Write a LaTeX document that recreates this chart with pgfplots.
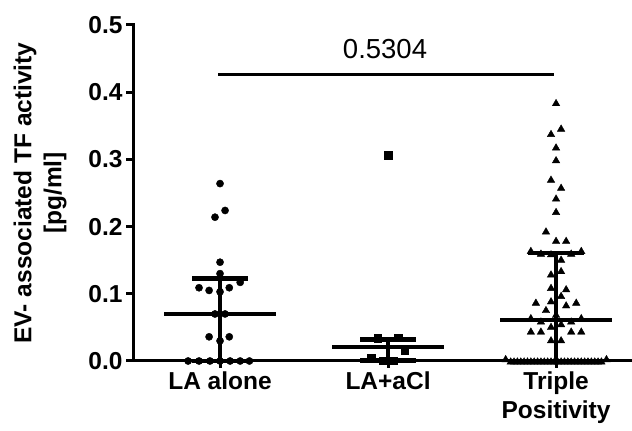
\documentclass[border=0pt]{standalone}
\usepackage{fontspec}
\setmainfont{Liberation Sans}
\usepackage{pgfplots}
\pgfplotsset{compat=1.18}
\begin{document}
\begin{tikzpicture}
\path[use as bounding box] (0pt,0pt) rectangle (632pt,431pt);
\begin{axis}[
  at={(133pt,70pt)}, anchor=south west,
  scale only axis, width=499pt, height=336pt,
  xmin=0.482, xmax=3.452, ymin=0, ymax=0.5,
  axis x line=bottom, axis y line=left,
  axis line style={-, line width=3pt, line cap=rect},
  axis on top,
  tick align=outside, major tick length=7pt,
  tick style={line width=3pt, black},
  xtick={1,2,3},
  xticklabels={LA alone, LA+aCl, {Triple\\Positivity}},
  ytick={0,0.1,0.2,0.3,0.4,0.5},
  /pgf/number format/fixed, /pgf/number format/fixed zerofill,
  /pgf/number format/precision=1, /pgf/number format/assume math mode=true,
  yticklabel style={font=\bfseries\fontsize{24.5}{28}\selectfont},
  xticklabel style={font=\bfseries\fontsize{24.5}{29}\selectfont, align=center},
  ylabel={EV- associated TF activity\\\mbox{[pg/ml]}},
  ylabel style={font=\bfseries\fontsize{24.5}{30}\selectfont, align=center,
    at={(rel axis cs:-0.1864,0.5)}, anchor=center},
  clip=false,
]
% significance line
\addplot[black, line width=3pt] coordinates {(0.988,0.427) (2.988,0.427)};
\node[font=\fontsize{27.5}{30}\selectfont] at (axis cs:1.982,0.464) {0.5304};

% LA alone
\addplot[only marks, mark=*, mark size=3.6pt, black] coordinates {
(1.00,0.264) (1.03,0.224) (0.97,0.214) (1.00,0.147) (1.00,0.130)
(1.12,0.117) (0.875,0.109) (0.935,0.105) (1.00,0.103) (1.055,0.109)
(0.97,0.070) (1.03,0.070) (0.935,0.036) (1.055,0.036) (1.00,0.030)
(0.81,0) (0.875,0) (0.94,0) (1.00,0) (1.06,0) (1.12,0) (1.175,0)
};
\addplot[black, line width=4.5pt] coordinates {(0.667,0.070) (1.333,0.070)};
\addplot[black, line width=4.5pt] coordinates {(0.834,0.123) (1.166,0.123)};
\addplot[black, line width=4.5pt] coordinates {(0.834,0) (1.166,0)};
\addplot[black, line width=4pt] coordinates {(1,0) (1,0.123)};

% LA+aCl
\addplot[only marks, mark=square*, mark size=3.7pt, black] coordinates {
(2.00,0.306) (1.94,0.034) (2.06,0.035) (2.10,0.016) (1.90,0.004) (1.97,0) (2.03,0)
};
\addplot[black, line width=4.5pt] coordinates {(1.667,0.021) (2.333,0.021)};
\addplot[black, line width=4.5pt] coordinates {(1.834,0.032) (2.166,0.032)};
\addplot[black, line width=4.5pt] coordinates {(1.834,0.001) (2.166,0.001)};
\addplot[black, line width=4pt] coordinates {(2,0) (2,0.032)};

% Triple Positivity
\addplot[only marks, mark=triangle*, mark size=4.3pt, black] coordinates {
(3.00,0.383) (3.03,0.345) (2.97,0.337) (3.00,0.317) (3.00,0.298)
(2.97,0.269) (3.03,0.257) (3.00,0.241) (3.00,0.221) (2.94,0.192)
(3.00,0.178) (3.06,0.178)
(2.85,0.163) (2.91,0.159) (2.97,0.158) (3.03,0.150) (3.09,0.159) (3.15,0.163)
(2.97,0.128) (3.03,0.133) (2.97,0.108) (3.06,0.106) (3.03,0.096)
(2.97,0.088) (2.88,0.086) (3.12,0.086) (3.06,0.082) (2.94,0.075) (3.00,0.068)
(2.85,0.063) (2.91,0.058) (3.09,0.058) (3.15,0.063)
(2.97,0.050) (3.03,0.054)
(2.85,0.043) (2.91,0.043) (3.09,0.043) (3.15,0.043)
(2.97,0.030) (3.03,0.030)
(2.70,0.002) (3.30,0.002)
};
\addplot[only marks, mark=triangle*, mark size=4.3pt, black] coordinates {
(2.73,-0.0015) (2.75,-0.0015) (2.77,-0.0015) (2.79,-0.0015) (2.81,-0.0015)
(2.83,-0.0015) (2.85,-0.0015) (2.87,-0.0015) (2.89,-0.0015) (2.91,-0.0015)
(2.93,-0.0015) (2.95,-0.0015) (2.97,-0.0015) (2.99,-0.0015)
(3.01,-0.0015) (3.03,-0.0015) (3.05,-0.0015) (3.07,-0.0015) (3.09,-0.0015)
(3.11,-0.0015) (3.13,-0.0015) (3.15,-0.0015) (3.17,-0.0015) (3.19,-0.0015)
(3.21,-0.0015) (3.23,-0.0015) (3.25,-0.0015) (3.27,-0.0015)
};
\addplot[black, line width=4.5pt] coordinates {(2.667,0.061) (3.333,0.061)};
\addplot[black, line width=4.5pt] coordinates {(2.834,0.161) (3.166,0.161)};
\addplot[black, line width=4.5pt] coordinates {(2.834,0) (3.166,0)};
\addplot[black, line width=4pt] coordinates {(3,0) (3,0.161)};
\end{axis}
\end{tikzpicture}
\end{document}
